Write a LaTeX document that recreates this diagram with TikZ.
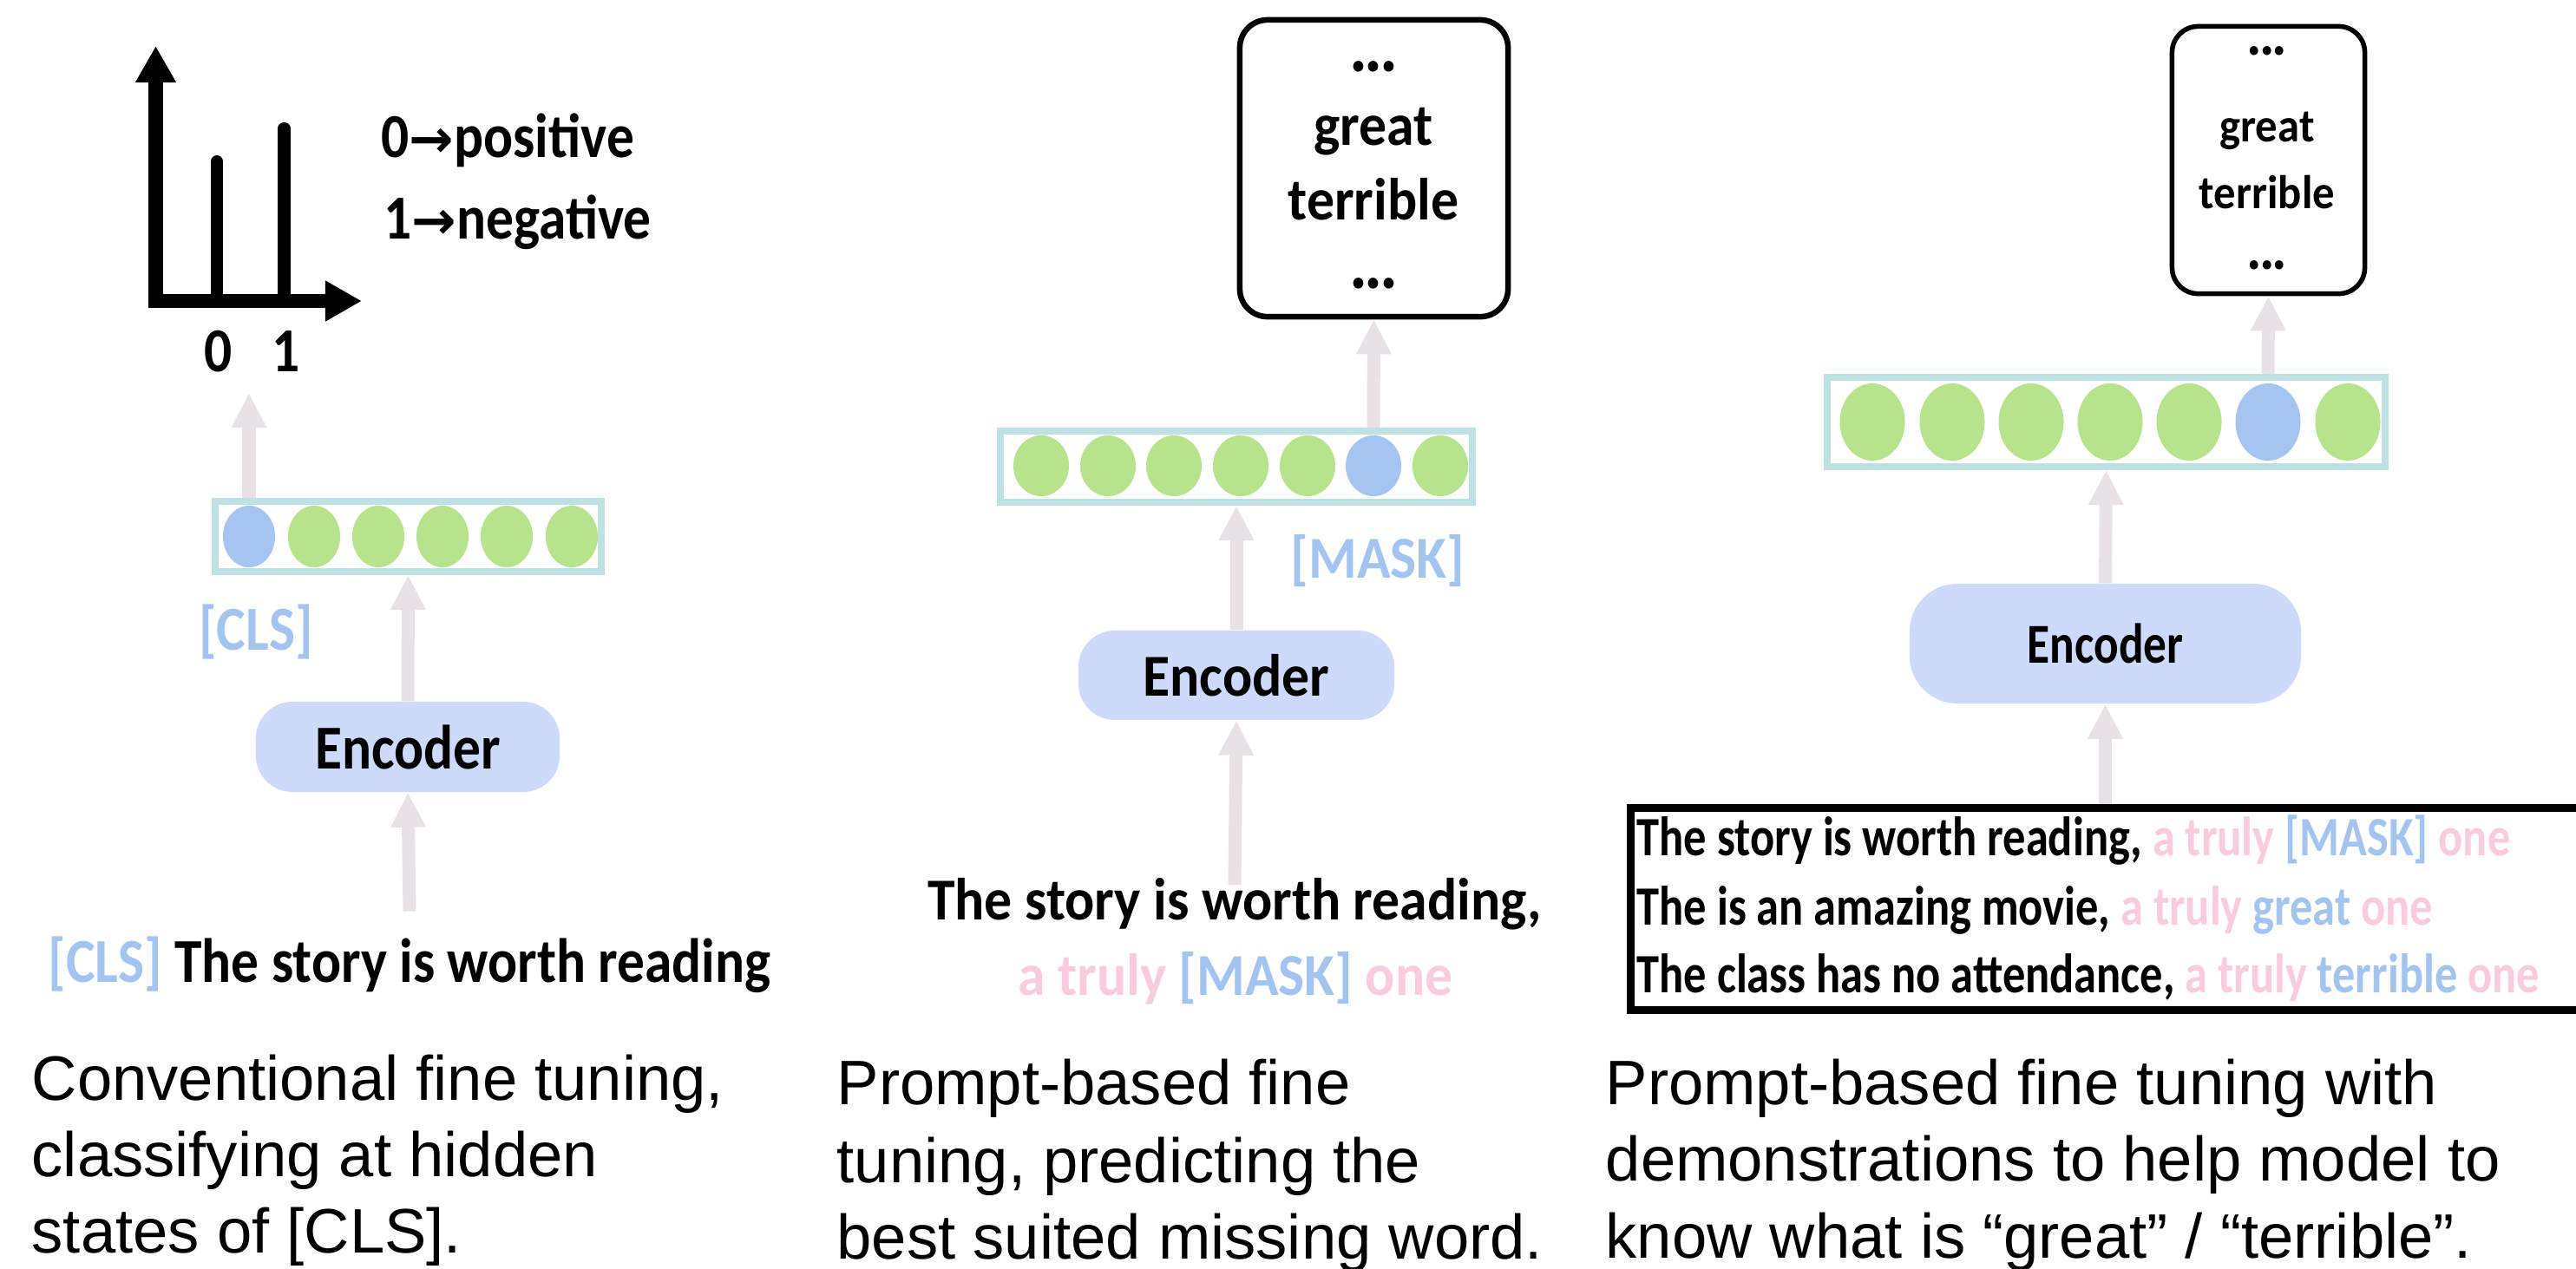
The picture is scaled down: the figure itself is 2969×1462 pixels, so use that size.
\documentclass[tikz,border=0pt]{standalone}
\usepackage{fontspec}
\setmainfont{Liberation Sans}
\newfontfamily\capf{Liberation Sans}
\newfontfamily\cfa[FakeStretch=0.88]{Carlito}
\newfontfamily\cfb[FakeStretch=0.93]{Carlito}
\newfontfamily\cfc[FakeStretch=0.82]{Carlito}
\newfontfamily\symf{DejaVu Sans}
\usetikzlibrary{arrows.meta,shapes.geometric}
\definecolor{arrg}{RGB}{232,226,230}
\definecolor{egreen}{RGB}{182,227,140}
\definecolor{eblue}{RGB}{165,196,240}
\definecolor{vteal}{RGB}{190,226,228}
\definecolor{encf}{RGB}{205,218,250}
\definecolor{tpink}{RGB}{248,204,222}
\definecolor{tblue}{RGB}{163,196,240}
\tikzset{
 arr/.style={draw=arrg, line width=0.15cm, -{Triangle[width=0.38cm,length=0.4cm]}},
 axisln/.style={line width=0.16cm, draw=black},
 barln/.style={line width=0.14cm, line cap=round, draw=black},
 vbox/.style={draw=vteal, line width=0.08cm, inner sep=0},
 ell/.style={ellipse, inner sep=0, draw=none},
 enc/.style={fill=encf, rounded corners=0.42cm, inner sep=0},
 outbox/.style={draw=black, line width=0.065cm, rounded corners=0.32cm, inner sep=0},
 txt/.style={inner sep=0},
 captext/.style={inner sep=0, anchor=base west, font=\capf\fontsize{20.6}{24}\selectfont},
 fa/.style={font=\cfa\bfseries\fontsize{20.5}{24}\selectfont},
 fb/.style={font=\cfb\bfseries\fontsize{19.5}{23}\selectfont},
 fbd/.style={font=\cfb\bfseries\fontsize{24}{24}\selectfont},
 fbs/.style={font=\cfb\bfseries\fontsize{15.5}{18}\selectfont},
 fbsd/.style={font=\cfb\bfseries\fontsize{20}{20}\selectfont},
 fce/.style={font=\cfc\bfseries\fontsize{18.5}{22}\selectfont},
 fcl/.style={font=\cfc\bfseries\fontsize{18.2}{21}\selectfont},
}
\begin{document}
\begin{tikzpicture}[x=0.01cm,y=-0.01cm]
\useasboundingbox (0,0) rectangle (2969,1462);

% ---------------- Panel 1 ----------------
\coordinate (ytip) at (179.5,53);
\coordinate (orig) at (179.5,347);
\coordinate (xtip) at (417,347);
\draw[axisln,{Triangle[width=0.44cm,length=0.42cm]}-{Triangle[width=0.44cm,length=0.42cm]}] (ytip) -- (orig) -- (xtip);
\draw[barln] (250,347) -- (250,186);
\draw[barln] (327.5,347) -- (327.5,148);
\node[txt,fa] (lab0) at (252,405) {0};
\node[txt,fa] (lab1) at (330,405) {1};
\node[txt,fa,anchor=base west] (leg0) at (439,181) {0{\symf\bfseries\fontsize{17.5}{17}\selectfont →}positive};
\node[txt,fa,anchor=base west] (leg1) at (442,275) {1{\symf\bfseries\fontsize{17.5}{17}\selectfont →}negative};

\node[vbox,minimum width=4.45cm,minimum height=0.81cm] (v1) at (470.5,618.5) {};
\node[ell,fill=eblue,minimum width=0.6cm,minimum height=0.71cm] (e10) at (287,618.5) {};
\foreach \xx [count=\i] in {362,436,510,584,659}
  \node[ell,fill=egreen,minimum width=0.6cm,minimum height=0.71cm] (e1\i) at (\xx,618.5) {};
\coordinate (c1) at (287,453);
\draw[arr] (e10 |- v1.north) -- (c1);

\node[txt,fa,text=tblue] (cls1) at (295,728) {[CLS]};
\node[enc,fa,minimum width=3.5cm,minimum height=1.04cm] (enc1) at (470,861) {Encoder};
\draw[arr] (enc1.north) -- (v1.south);
\node[txt,fa,anchor=base] (s1) at (472,1132) {\textcolor{tblue}{[CLS]} The story is worth reading};
\draw[arr] ([yshift=0.28cm]s1.north) -- (enc1.south);

\node[captext] (cap1a) at (36,1268) {Conventional fine tuning,};
\node[captext] (cap1b) at (36,1356) {classifying at hidden};
\node[captext] (cap1c) at (36,1444) {states of [CLS].};

% ---------------- Panel 2 ----------------
\node[outbox,minimum width=3.09cm,minimum height=3.42cm] (o2) at (1583.5,194) {};
\node[txt,fbd,anchor=base] (o2a) at (1583,82) {.\kern-1pt.\kern-1pt.};
\node[txt,fb,anchor=base] (o2b) at (1583,167) {great};
\node[txt,fb,anchor=base] (o2c) at (1583,253) {terrible};
\node[txt,fbd,anchor=base] (o2d) at (1583,332) {.\kern-1pt.\kern-1pt.};

\node[vbox,minimum width=5.44cm,minimum height=0.82cm] (v2) at (1425,538) {};
\foreach \xx [count=\i] in {1200,1277,1353,1430,1507}
  \node[ell,fill=egreen,minimum width=0.64cm,minimum height=0.70cm] (e2\i) at (\xx,537) {};
\node[ell,fill=eblue,minimum width=0.64cm,minimum height=0.70cm] (e26) at (1583,537) {};
\node[ell,fill=egreen,minimum width=0.64cm,minimum height=0.70cm] (e27) at (1660,537) {};
\draw[arr] (e26 |- v2.north) -- (o2.south);

\node[txt,fb,text=tblue] (mask2) at (1588,647) {[MASK]};
\node[enc,fb,minimum width=3.64cm,minimum height=1.03cm] (enc2) at (1425,778.5) {Encoder};
\draw[arr] (enc2.north) -- (v2.south);
\node[txt,fb,anchor=base] (s2a) at (1423,1060) {The story is worth reading,};
\node[txt,fb,anchor=base] (s2b) at (1424,1147) {\textcolor{tpink}{a truly} \textcolor{tblue}{[MASK]} \textcolor{tpink}{one}};
\draw[arr] ([yshift=-0.09cm]s2a.north) -- (enc2.south);

\node[captext] (cap2a) at (964,1273) {Prompt-based fine};
\node[captext] (cap2b) at (964,1363) {tuning, predicting the};
\node[captext] (cap2c) at (964,1451) {best suited missing word.};

% ---------------- Panel 3 ----------------
\node[outbox,line width=0.055cm,rounded corners=0.3cm,minimum width=2.22cm,minimum height=3.08cm] (o3) at (2614.5,184.5) {};
\node[txt,fbsd,anchor=base] (o3a) at (2613,63) {.\kern-0.8pt.\kern-0.8pt.};
\node[txt,fbs,anchor=base] (o3b) at (2613,163) {great};
\node[txt,fbs,anchor=base] (o3c) at (2613,240) {terrible};
\node[txt,fbsd,anchor=base] (o3d) at (2613,310) {.\kern-0.8pt.\kern-0.8pt.};

\node[vbox,minimum width=6.43cm,minimum height=1.03cm] (v3) at (2427.5,486.5) {};
\foreach \xx [count=\i] in {2158,2250,2341,2432,2523}
  \node[ell,fill=egreen,minimum width=0.75cm,minimum height=0.89cm] (e3\i) at (\xx,486.5) {};
\node[ell,fill=eblue,minimum width=0.75cm,minimum height=0.89cm] (e36) at (2614,486.5) {};
\node[ell,fill=egreen,minimum width=0.75cm,minimum height=0.89cm] (e37) at (2706,486.5) {};
\draw[arr] (e36 |- v3.north) -- (o3.south);

\node[enc,fce,rounded corners=0.55cm,minimum width=4.51cm,minimum height=1.38cm] (enc3) at (2426.5,742) {Encoder};
\draw[arr] (enc3.north) -- (v3.south);

\node[draw=black,line width=0.09cm,inner sep=0,minimum width=11.2cm,minimum height=2.33cm] (tb) at (2439.75,1048) {};
\draw[arr] (tb.north -| enc3.south) -- (enc3.south);
\node[txt,fcl,anchor=base west] (t3a) at (1886,986) {The story is worth reading, \textcolor{tpink}{a truly} \textcolor{tblue}{[MASK]} \textcolor{tpink}{one}};
\node[txt,fcl,anchor=base west] (t3b) at (1886,1066) {The is an amazing movie, \textcolor{tpink}{a truly} \textcolor{tblue}{great} \textcolor{tpink}{one}};
\node[txt,fcl,anchor=base west] (t3c) at (1886,1144) {The class has no attendance, \textcolor{tpink}{a truly} \textcolor{tblue}{terrible} \textcolor{tpink}{one}};

\node[captext] (cap3a) at (1850,1273) {Prompt-based fine tuning with};
\node[captext] (cap3b) at (1850,1361) {demonstrations to help model to};
\node[captext] (cap3c) at (1850,1450) {know what is “great” / “terrible”.};
\end{tikzpicture}
\end{document}
